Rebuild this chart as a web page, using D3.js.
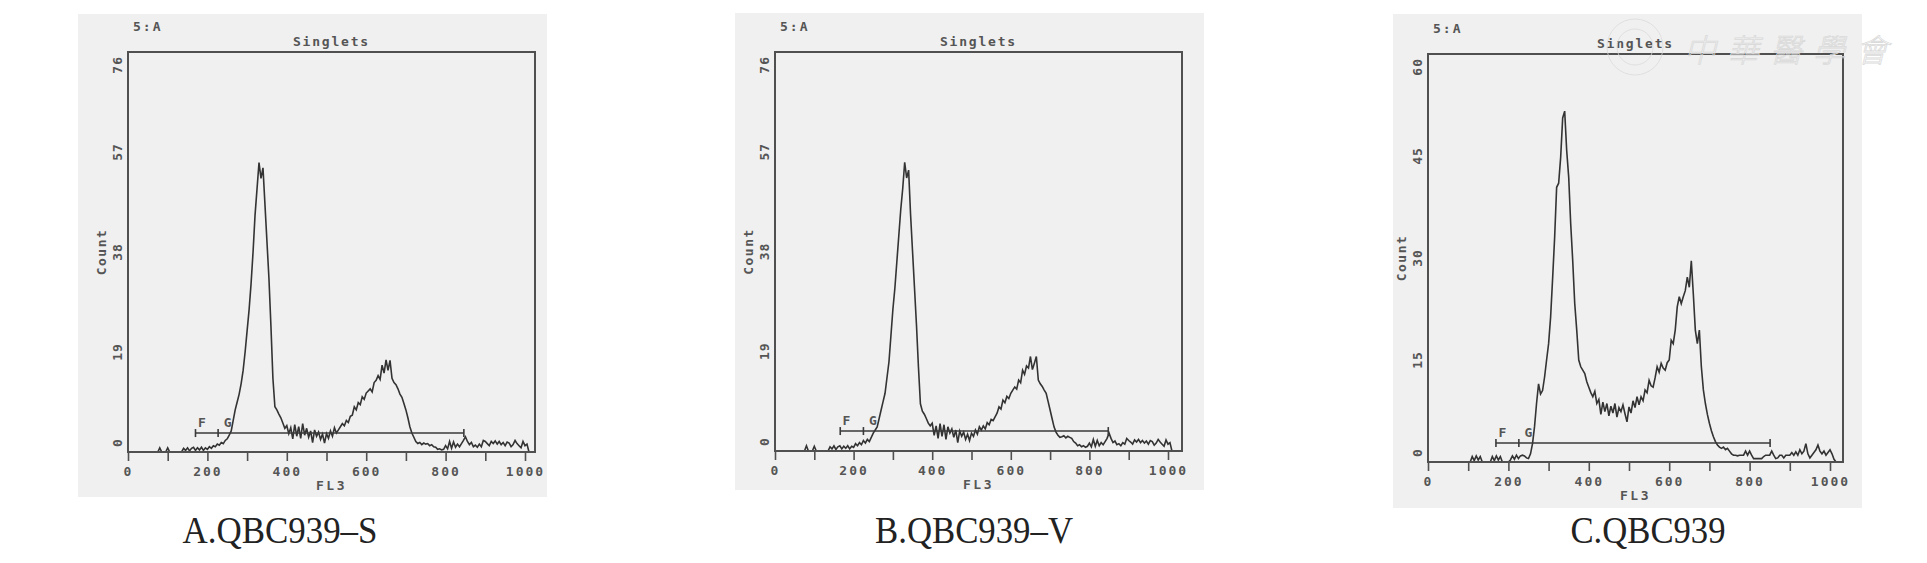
<!DOCTYPE html>
<html>
<head>
<meta charset="utf-8">
<script src="https://cdn.jsdelivr.net/npm/d3@7"></script>
<style>
  html, body { margin: 0; padding: 0; background: #fff; }
  svg { display: block; }
</style>
</head>
<body>
<svg id="chart" width="1927" height="563"></svg>
<script>
  // ===== 数据：FL3 通道（每 5 个通道一个点）与三个样本的细胞计数 =====

  var CHANNELS = d3.range(0, 1021, 5);

  var countsA = [
    0, 0, 0, 0, 0, 0, 0, 0, 0, 0, 0, 0, 0, 0, 0, 0, 0.8, 0, 0, 0,
    0.8, 0, 0, 0, 0, 0, 0, 0, 0.7, 0.3, 0.8, 0.2, 0.7, 0.9, 0.3, 0.8, 0.4, 0.9, 0.3, 0.8,
    0.5, 1.0, 0.7, 1.2, 1.0, 1.5, 1.3, 1.8, 1.6, 2.2, 2.5, 3.2, 4.0, 6.0, 8.0, 9.5, 11.0, 13.0, 15.5, 19,
    23, 27, 32, 38, 45, 50, 55, 52, 54, 47, 40, 33, 24, 14, 8.6, 8, 7.2, 6.5, 5.5, 4.5,
    5.0, 3.5, 4.6, 2.5, 5.2, 3.0, 4.8, 2.6, 5.4, 3.2, 4.5, 2.8, 4.0, 1.8, 4.2, 3.0, 3.8, 2.4, 3.4, 1.7,
    3.5, 2.6, 4.0, 3.0, 4.6, 3.6, 4.2, 4.8, 5.4, 5.0, 6.0, 5.6, 6.8, 7.0, 8.6, 8.0, 9.4, 9.0, 10.5, 10.0,
    11.2, 11.6, 12.0, 11.4, 13.2, 13.6, 14.5, 13.8, 16.5, 15, 17.5, 15.5, 17.4, 14, 13.2, 12.8, 12.0, 11.0, 10.4, 9.2,
    8.0, 6.5, 4.8, 3.6, 2.8, 2.0, 1.6, 1.8, 1.4, 1.7, 1.5, 1.6, 1.2, 1.4, 1.0, 0.9, 0.5, 0.6, 0.4, 0.5,
    1.2, 0.6, 2.0, 0.7, 1.9, 0.9, 1.5, 1.0, 1.6, 2.2, 2.9, 2.0, 1.4, 1.8, 1.0, 1.3, 0.9, 1.5, 1.0, 2.2,
    2.0, 1.6, 1.2, 2.0, 1.6, 2.1, 1.5, 2.0, 1.4, 1.8, 1.2, 1.9, 1.7, 1.0, 1.4, 2.2, 1.6, 1.2, 0.8, 2.0,
    1.2, 1.5, 0, 0, 0
  ];

  var countsB = [
    0, 0, 0, 0, 0, 0, 0, 0, 0, 0, 0, 0, 0, 0, 0, 0, 1.0, 0, 0, 0,
    0.9, 0, 0, 0, 0, 0, 0, 0, 0.8, 0.4, 1.0, 0.3, 0.8, 1.0, 0.4, 0.9, 0.5, 1.0, 0.4, 0.9,
    0.7, 1.4, 1.0, 1.6, 1.2, 2.0, 1.5, 2.2, 1.8, 2.6, 3.4, 4.0, 4.6, 6.2, 7.8, 9.4, 11, 14, 17, 22,
    27, 31, 36, 41, 46, 50, 55, 52, 53.5, 45, 38, 31, 24, 16, 9, 7.6, 7, 6.2, 5.3, 4.8,
    5.3, 3.0, 4.8, 2.4, 5.2, 2.8, 5.0, 2.2, 4.6, 3.4, 4.2, 2.6, 4.0, 1.6, 3.8, 2.8, 3.6, 2.2, 3.2, 2.0,
    3.4, 2.8, 4.0, 3.2, 4.6, 4.0, 4.8, 4.2, 5.4, 5.0, 6.0, 5.8, 6.5, 7.2, 8.4, 8.0, 9.7, 9.2, 10.4, 10.0,
    11, 11.6, 12.2, 11.8, 13.5, 13.0, 15.4, 14.6, 16.2, 15.8, 18, 15.5, 16.7, 18, 13.5, 12.8, 12.3, 11.6, 11, 9.4,
    7.8, 6.2, 4.6, 3.6, 3.0, 2.6, 2.7, 2.9, 2.5, 2.8, 2.6, 2.4, 1.8, 1.5, 1.0, 1.2, 0.8, 1.0, 0.7, 0.9,
    1.5, 0.8, 2.2, 0.9, 2.0, 1.0, 1.6, 1.2, 1.8, 2.4, 3.4, 2.4, 1.6, 1.9, 1.2, 1.4, 1.0, 1.6, 1.3, 2.4,
    2.0, 1.7, 1.3, 2.1, 1.7, 2.2, 1.6, 2.0, 1.5, 1.9, 1.3, 2.0, 1.8, 1.1, 1.5, 2.2, 1.7, 1.3, 0.9, 2.1,
    1.3, 1.6, 0, 0, 0
  ];

  var countsC = [
    0, 0, 0, 0, 0, 0, 0, 0, 0, 0, 0, 0, 0, 0, 0, 0, 0, 0, 0, 0,
    0, 0, 0.8, 0.2, 0.9, 0.3, 0.8, 0, 0, 0, 0, 0, 0.8, 0.2, 0.9, 0.3, 0.8, 0, 0, 0,
    0, 0.3, 0.9, 0.4, 1.0, 0.5, 0.9, 1.0, 0.9, 0.6, 0.5, 1.2, 2.7, 5.2, 8.6, 11.5, 10.0, 10.5, 12.5, 15,
    17.4, 21.3, 27, 33, 40.4, 41, 44.8, 50.6, 51.6, 45.8, 41.9, 35, 29.6, 23.3, 19.4, 15, 14, 13.5, 13, 11.8,
    11, 10.2, 9.6, 10.4, 8.6, 9.2, 7.0, 8.8, 7.4, 8.6, 6.8, 8.2, 7.2, 8.6, 6.6, 8.0, 7.4, 8.4, 7.1, 5.9,
    8.1, 7.2, 9.0, 8.0, 9.6, 8.4, 9.6, 9.0, 10.6, 10.2, 12, 11.2, 11, 12.4, 14, 13.2, 14.5, 13.8, 13.5, 14.6,
    15, 17.9, 17.4, 19.4, 22.8, 24.3, 23.3, 24.3, 25.2, 27.2, 25.7, 29.6, 24.7, 19.4, 17.4, 19.4, 14, 10.6, 8.6, 7.0,
    5.7, 4.6, 3.7, 3.0, 2.5, 2.2, 2.0, 2.2, 1.8, 2.0, 1.6, 1.2, 1.0, 1.0, 0.9, 1.0, 1.0, 1.0, 1.6, 1.0,
    1.6, 1.0, 0.5, 0.5, 0.5, 0.5, 0.5, 0.8, 1.0, 1.0, 1.0, 1.6, 1.0, 0.5, 0.6, 1.0, 1.0, 0.6, 1.0, 1.0,
    1.0, 1.4, 1.0, 1.5, 1.0, 1.8, 1.2, 1.6, 2.7, 1.2, 0.6, 1.0, 1.4, 1.8, 2.5, 1.6, 1.2, 1.6, 1.0, 1.4,
    1.8, 1.2, 0.4, 0, 0
  ];

  var X_TICKS = d3.range(0, 1001, 100);
  var Y_TICKS_76 = [0, 19, 38, 57, 76];
  var Y_TICKS_60 = [0, 15, 30, 45, 60];
  var CAPTIONS = ['A.QBC939\u2013S', 'B.QBC939\u2013V', 'C.QBC939'];
  // 门控标记 F / G（通道起止、高度）
  var GATE_F = [[170, 227], [166, 225], [169, 226]];
  var GATE_G_END = [846, 848, 851];
  var GATE_LEVEL = [3.6, 3.8, 2.8];

  // ===== 版面 =====
  var PANELS = [
    { counts: countsA, yTicks: Y_TICKS_76, caption: CAPTIONS[0], gateF: GATE_F[0], gateEnd: GATE_G_END[0], gateY: GATE_LEVEL[0],
      bg: [78, 14, 547, 497], frame: [128, 52, 535, 452], x0: 128, x1000: 525, capX: 280, capW: 195 },
    { counts: countsB, yTicks: Y_TICKS_76, caption: CAPTIONS[1], gateF: GATE_F[1], gateEnd: GATE_G_END[1], gateY: GATE_LEVEL[1],
      bg: [735, 13, 1204, 490], frame: [775, 52, 1182, 451], x0: 775, x1000: 1168, capX: 974, capW: 198 },
    { counts: countsC, yTicks: Y_TICKS_60, caption: CAPTIONS[2], gateF: GATE_F[2], gateEnd: GATE_G_END[2], gateY: GATE_LEVEL[2],
      bg: [1393, 14, 1862, 508], frame: [1428, 54, 1843, 462], x0: 1428, x1000: 1830, capX: 1648, capW: 155 }
  ];

  var INK = '#555';
  var MONO = '"DejaVu Sans Mono", monospace';

  var svg = d3.select('#chart');
  svg.append('rect').attr('width', 1927).attr('height', 563).attr('fill', '#fff');

  PANELS.forEach(function (p) {
    var g = svg.append('g');
    var f = p.frame;
    var yMax = p.yTicks[p.yTicks.length - 1];

    var x = d3.scaleLinear().domain([0, 1000]).range([p.x0, p.x1000]);
    var y = d3.scaleLinear().domain([0, yMax]).range([f[3], f[1]]);

    // 灰色底
    g.append('rect')
      .attr('x', p.bg[0]).attr('y', p.bg[1])
      .attr('width', p.bg[2] - p.bg[0]).attr('height', p.bg[3] - p.bg[1])
      .attr('fill', '#f0f0f0');

    // 直方图
    var line = d3.line()
      .x(function (d, i) { return x(CHANNELS[i]); })
      .y(function (d) { return y(d); });
    g.append('path')
      .datum(p.counts)
      .attr('d', line)
      .attr('fill', 'none')
      .attr('stroke', '#333')
      .attr('stroke-width', 1.6)
      .attr('stroke-linejoin', 'miter');

    // 门控 F / G
    var gy = y(p.gateY);
    var gate = g.append('g').attr('stroke', '#3a3a3a').attr('stroke-width', 1.6);
    gate.append('line').attr('x1', x(p.gateF[0])).attr('x2', x(p.gateEnd)).attr('y1', gy).attr('y2', gy);
    [p.gateF[0], p.gateF[1], p.gateEnd].forEach(function (c) {
      gate.append('line').attr('x1', x(c)).attr('x2', x(c)).attr('y1', gy - 4).attr('y2', gy + 4);
    });
    g.append('text').attr('x', x(p.gateF[0] + 16)).attr('y', gy - 6)
      .attr('text-anchor', 'middle').attr('font-family', MONO).attr('font-size', 13)
      .attr('font-weight', 'bold').attr('fill', INK).text('F');
    g.append('text').attr('x', x(p.gateF[1] + 24)).attr('y', gy - 6)
      .attr('text-anchor', 'middle').attr('font-family', MONO).attr('font-size', 13)
      .attr('font-weight', 'bold').attr('fill', INK).text('G');

    // 外框
    g.append('rect')
      .attr('x', f[0]).attr('y', f[1])
      .attr('width', f[2] - f[0]).attr('height', f[3] - f[1])
      .attr('fill', 'none').attr('stroke', '#505050').attr('stroke-width', 2);

    // X 轴
    var xAxis = d3.axisBottom(x)
      .tickValues(X_TICKS)
      .tickSizeInner(9).tickSizeOuter(0).tickPadding(6)
      .tickFormat(function (d) { return d % 200 === 0 ? d : ''; });
    var xg = g.append('g').attr('transform', 'translate(0,' + f[3] + ')').call(xAxis);
    xg.select('.domain').remove();
    xg.selectAll('line').attr('stroke', '#505050').attr('stroke-width', 1.6);
    xg.selectAll('text')
      .attr('font-family', MONO).attr('font-size', 13).attr('font-weight', 'bold')
      .attr('letter-spacing', 2).attr('fill', INK);

    // Y 轴刻度标签（竖排）
    g.selectAll('.ylab')
      .data(p.yTicks)
      .join('text')
      .attr('class', 'ylab')
      .attr('transform', function (d) { return 'translate(' + (f[0] - 6) + ',' + y(d) + ') rotate(-90)'; })
      .attr('text-anchor', function (d, i) { return i === 0 ? 'start' : (i === p.yTicks.length - 1 ? 'end' : 'middle'); })
      .attr('dx', function (d, i) { return i === 0 ? 5 : (i === p.yTicks.length - 1 ? -4 : 0); })
      .attr('font-family', MONO).attr('font-size', 13).attr('font-weight', 'bold')
      .attr('letter-spacing', 1).attr('fill', INK)
      .text(function (d) { return d; });

    // 轴标题
    var cx = (f[0] + f[2]) / 2;
    g.append('text')
      .attr('transform', 'translate(' + (f[0] - 22) + ',' + ((f[1] + f[3]) / 2) + ') rotate(-90)')
      .attr('text-anchor', 'middle').attr('font-family', MONO).attr('font-size', 13)
      .attr('font-weight', 'bold').attr('letter-spacing', 1.5).attr('fill', INK).text('Count');
    g.append('text')
      .attr('x', cx).attr('y', f[3] + 38)
      .attr('text-anchor', 'middle').attr('font-family', MONO).attr('font-size', 13)
      .attr('font-weight', 'bold').attr('letter-spacing', 2.5).attr('fill', INK).text('FL3');
    g.append('text')
      .attr('x', cx).attr('y', f[1] - 6)
      .attr('text-anchor', 'middle').attr('font-family', MONO).attr('font-size', 13)
      .attr('font-weight', 'bold').attr('letter-spacing', 1.8).attr('fill', INK).text('Singlets');
    g.append('text')
      .attr('x', f[0] + 5).attr('y', f[1] - 21)
      .attr('font-family', MONO).attr('font-size', 13)
      .attr('font-weight', 'bold').attr('letter-spacing', 2).attr('fill', INK).text('5:A');

    // 图注
    g.append('text')
      .attr('x', p.capX).attr('y', 543)
      .attr('text-anchor', 'middle')
      .attr('font-family', '"Liberation Serif", "DejaVu Serif", serif')
      .attr('font-size', 37).attr('fill', '#222')
      .attr('textLength', p.capW).attr('lengthAdjust', 'spacingAndGlyphs')
      .text(p.caption);
  });

  // 水印（C 图右上角）
  var wm = svg.append('g').attr('fill', 'none').attr('stroke', '#dadada').attr('stroke-width', 0.8);
  wm.append('circle').attr('cx', 1635).attr('cy', 47).attr('r', 28);
  wm.append('circle').attr('cx', 1635).attr('cy', 47).attr('r', 18);
  wm.selectAll('text')
    .data(['中', '華', '醫', '學', '會'])
    .join('text')
    .attr('x', function (d, i) { return 1700 + i * 43; })
    .attr('y', 62)
    .attr('text-anchor', 'middle')
    .attr('font-family', '"Noto Sans CJK TC", sans-serif')
    .attr('font-size', 32)
    .attr('font-weight', 300)
    .attr('font-style', 'italic')
    .text(function (d) { return d; });
</script>
</body>
</html>
